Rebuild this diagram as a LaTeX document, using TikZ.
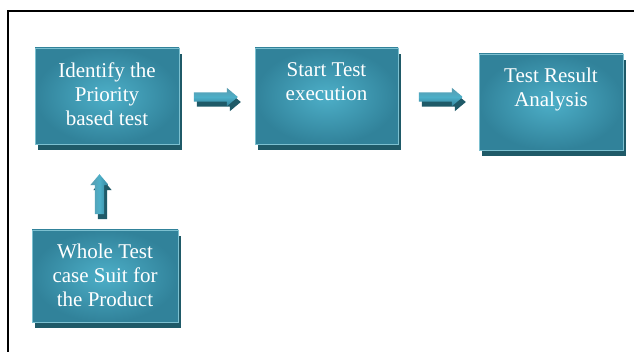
\documentclass[tikz,border=0pt]{standalone}
\usepackage{fontspec}
\setmainfont{Liberation Serif}
\usetikzlibrary{shapes.arrows,shadows}
\definecolor{faceout}{HTML}{31829A}
\definecolor{facein}{HTML}{4DAFC8}
\definecolor{shadowc}{HTML}{1F5A68}
\definecolor{edgec}{HTML}{7CC0D0}
\tikzset{
  stepbox/.style={rectangle, inner sep=0pt, minimum width=#1,
    inner color=facein, outer color=faceout, draw=edgec, line width=0.6pt,
    general shadow={fill=shadowc, shadow xshift=3pt, shadow yshift=-6pt}},
  lbl/.style={text=white, align=center, inner sep=0pt,
    font=\fontsize{21}{24}\selectfont},
  blockarrow/.style={single arrow, inner sep=4.5pt, minimum height=#1,
    single arrow head extend=4.5pt, single arrow tip angle=80,
    general shadow={fill=shadowc, shadow xshift=3pt, shadow yshift=-5pt}},
}
\begin{document}
\begin{tikzpicture}[x=1pt,y=-1pt]
\useasboundingbox (0,0) rectangle (634,352);
\fill[white] (0,0) rectangle (634,352);
\draw[line width=2pt] (8,352) -- (8,11) -- (634,11);

\node[stepbox=144pt, minimum height=96pt] (b1) at (107,96) {};
\node[stepbox=143pt, minimum height=96pt] (b2) at (326.5,96) {};
\node[stepbox=144pt, minimum height=96pt] (b3) at (551,102) {};
\node[stepbox=146pt, minimum height=92pt] (b4) at (105,276) {};

\node[lbl, anchor=north] (t1) at ([yshift=-14.5pt]b1.north) {Identify the\\Priority\\based test};
\node[lbl, anchor=north] (t2) at ([yshift=-14.5pt]b2.north) {Start Test\\execution};
\node[lbl, anchor=north] (t3) at ([yshift=-14.5pt]b3.north) {Test Result\\Analysis};
\node[lbl, anchor=north] (t4) at ([yshift=-14pt]b4.north) {Whole Test\\case Suit for\\the Product};

\node[blockarrow=44pt, top color=faceout!80!white, bottom color=faceout, middle color=facein] (a1) at (213,97) {};
\node[blockarrow=44pt, top color=faceout!80!white, bottom color=faceout, middle color=facein] (a2) at (438,97) {};
\node[blockarrow=40pt, shape border rotate=90, left color=faceout!80!white, right color=faceout, middle color=facein] (a3) at (99.5,197) {};
\end{tikzpicture}
\end{document}
